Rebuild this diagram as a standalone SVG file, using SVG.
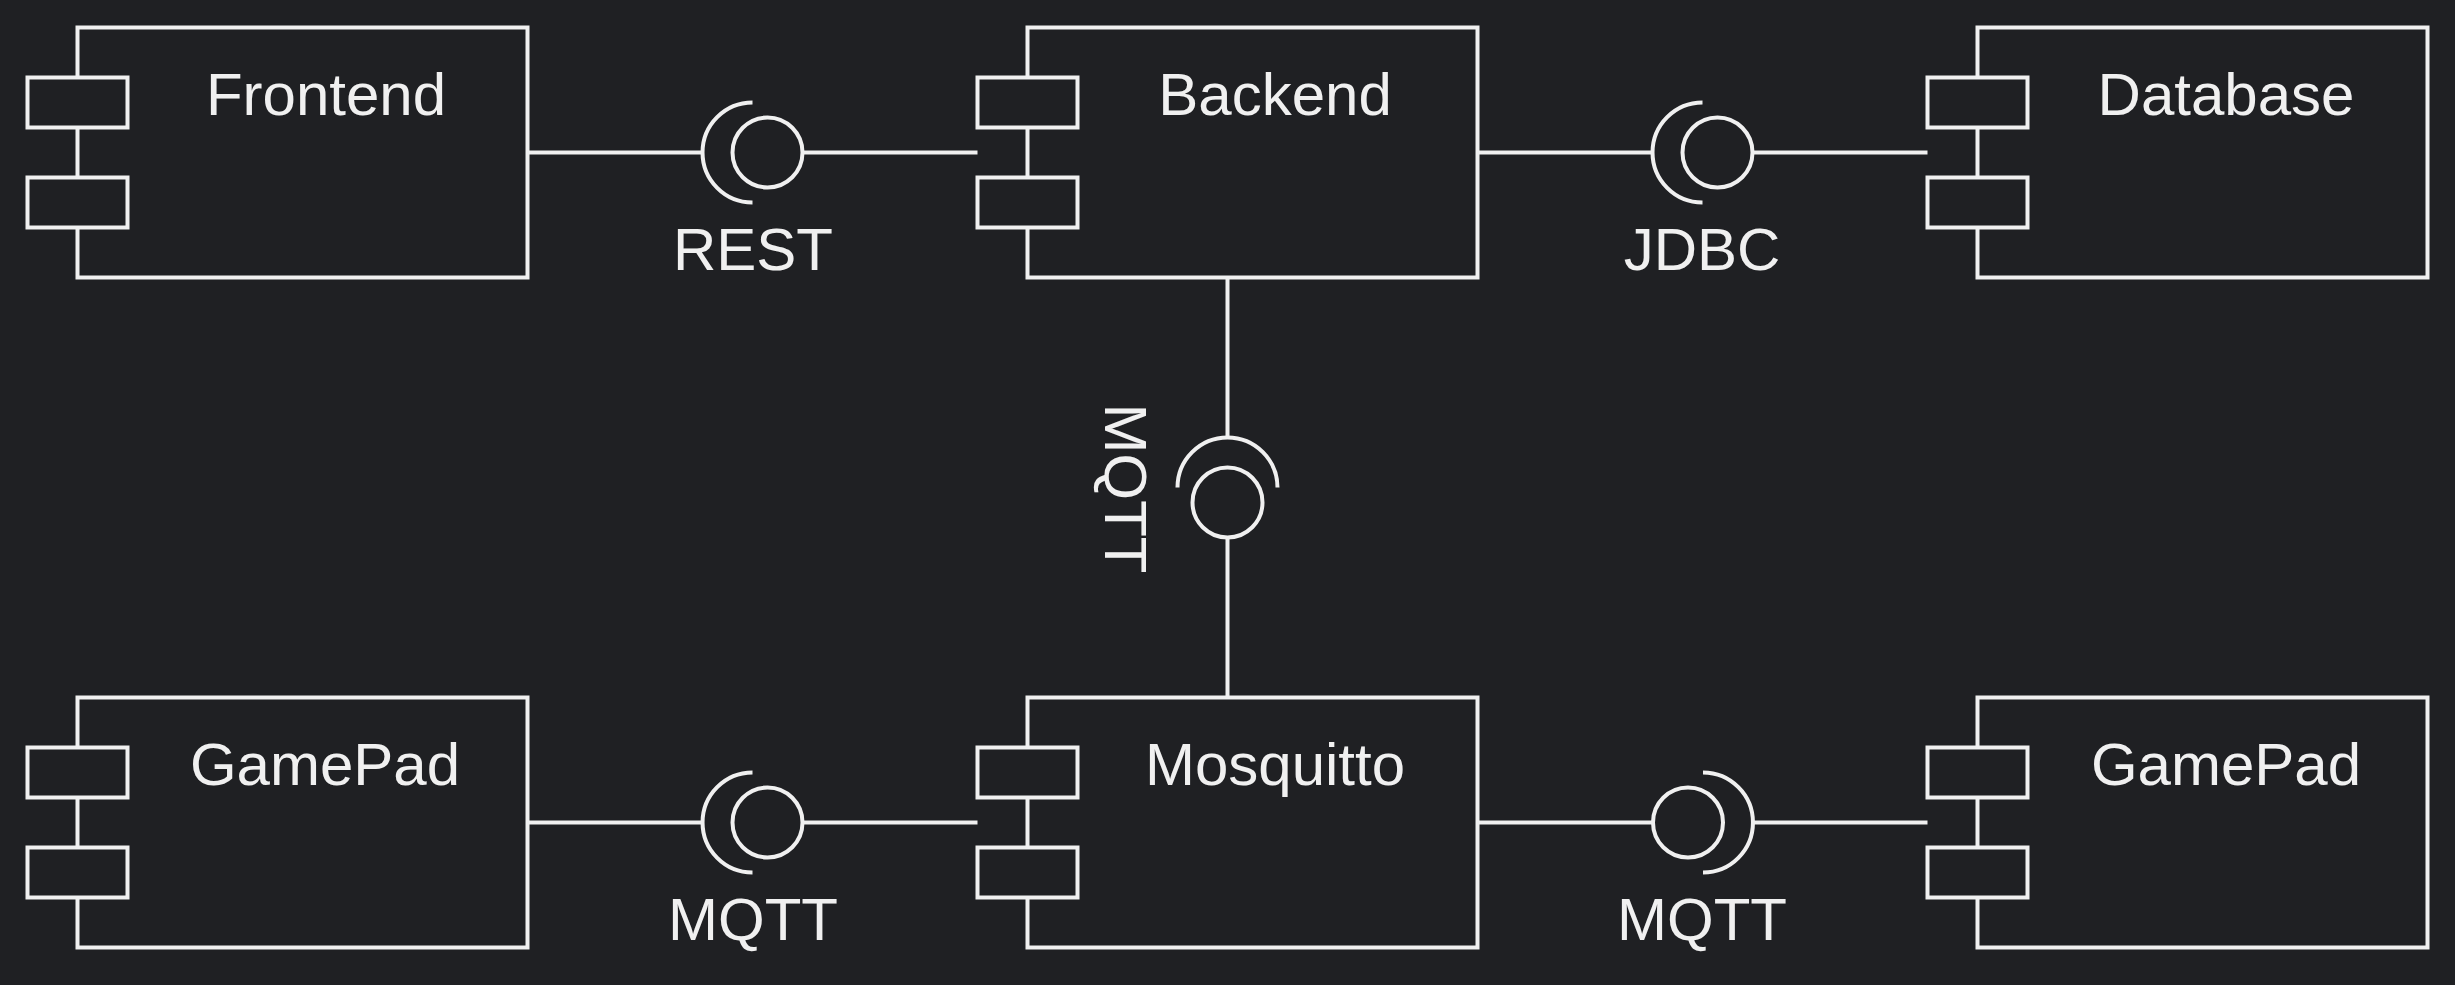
<svg xmlns="http://www.w3.org/2000/svg" width="2455" height="985" viewBox="0 0 2455 985">
  <style>
    .bg { fill: #1f2023; }
    .box { fill: #1f2023; stroke: #f0f0f0; stroke-width: 4; }
    .port { fill: #1f2023; stroke: #f0f0f0; stroke-width: 4; }
    .conn { fill: none; stroke: #f0f0f0; stroke-width: 4; }
    .lbl { font-family: "Liberation Sans", Arial, sans-serif; font-size: 60px; fill: #f0f0f0; text-anchor: middle; }
  </style>
  <rect class="bg" x="0" y="0" width="2455" height="985"/>

  <g id="connectors">
    <!-- Frontend - Backend (REST) -->
    <line class="conn" x1="527.5" y1="152.5" x2="702.5" y2="152.5"/>
    <path class="conn" d="M752.5,102.5 A50,50 0 0 0 752.5,202.5"/>
    <circle class="conn" cx="767.5" cy="152.5" r="35"/>
    <line class="conn" x1="802.5" y1="152.5" x2="977.5" y2="152.5"/>
    <text class="lbl" x="753" y="270">REST</text>

    <!-- Backend - Database (JDBC) -->
    <line class="conn" x1="1477.5" y1="152.5" x2="1652.5" y2="152.5"/>
    <path class="conn" d="M1702.5,102.5 A50,50 0 0 0 1702.5,202.5"/>
    <circle class="conn" cx="1717.5" cy="152.5" r="35"/>
    <line class="conn" x1="1752.5" y1="152.5" x2="1927.5" y2="152.5"/>
    <text class="lbl" x="1702" y="270">JDBC</text>

    <!-- Backend - Mosquitto (MQTT, vertical) -->
    <line class="conn" x1="1227.5" y1="277.5" x2="1227.5" y2="437.5"/>
    <path class="conn" d="M1177.5,487.5 A50,50 0 0 1 1277.5,487.5"/>
    <circle class="conn" cx="1227.5" cy="502.5" r="35"/>
    <line class="conn" x1="1227.5" y1="537.5" x2="1227.5" y2="697.5"/>
    <text class="lbl" transform="translate(1105,488.5) rotate(90)" x="0" y="0">MQTT</text>

    <!-- GamePad (left) - Mosquitto (MQTT) -->
    <line class="conn" x1="527.5" y1="822.5" x2="702.5" y2="822.5"/>
    <path class="conn" d="M752.5,772.5 A50,50 0 0 0 752.5,872.5"/>
    <circle class="conn" cx="767.5" cy="822.5" r="35"/>
    <line class="conn" x1="802.5" y1="822.5" x2="977.5" y2="822.5"/>
    <text class="lbl" x="753" y="940">MQTT</text>

    <!-- Mosquitto - GamePad (right) (MQTT) -->
    <line class="conn" x1="1477.5" y1="822.5" x2="1653" y2="822.5"/>
    <circle class="conn" cx="1688" cy="822.5" r="35"/>
    <path class="conn" d="M1703,772.5 A50,50 0 0 1 1703,872.5"/>
    <line class="conn" x1="1753" y1="822.5" x2="1927.5" y2="822.5"/>
    <text class="lbl" x="1702" y="940">MQTT</text>
  </g>

  <g id="frontend">
    <rect class="box" x="77.5" y="27.5" width="450" height="250"/>
    <rect class="port" x="27.5" y="77.5" width="100" height="50"/>
    <rect class="port" x="27.5" y="177.5" width="100" height="50"/>
    <text class="lbl" x="326" y="115">Frontend</text>
  </g>

  <g id="backend">
    <rect class="box" x="1027.5" y="27.5" width="450" height="250"/>
    <rect class="port" x="977.5" y="77.5" width="100" height="50"/>
    <rect class="port" x="977.5" y="177.5" width="100" height="50"/>
    <text class="lbl" x="1275" y="115">Backend</text>
  </g>

  <g id="database">
    <rect class="box" x="1977.5" y="27.5" width="450" height="250"/>
    <rect class="port" x="1927.5" y="77.5" width="100" height="50"/>
    <rect class="port" x="1927.5" y="177.5" width="100" height="50"/>
    <text class="lbl" x="2226" y="115">Database</text>
  </g>

  <g id="gamepad-left">
    <rect class="box" x="77.5" y="697.5" width="450" height="250"/>
    <rect class="port" x="27.5" y="747.5" width="100" height="50"/>
    <rect class="port" x="27.5" y="847.5" width="100" height="50"/>
    <text class="lbl" x="325" y="785">GamePad</text>
  </g>

  <g id="mosquitto">
    <rect class="box" x="1027.5" y="697.5" width="450" height="250"/>
    <rect class="port" x="977.5" y="747.5" width="100" height="50"/>
    <rect class="port" x="977.5" y="847.5" width="100" height="50"/>
    <text class="lbl" x="1275" y="785">Mosquitto</text>
  </g>

  <g id="gamepad-right">
    <rect class="box" x="1977.5" y="697.5" width="450" height="250"/>
    <rect class="port" x="1927.5" y="747.5" width="100" height="50"/>
    <rect class="port" x="1927.5" y="847.5" width="100" height="50"/>
    <text class="lbl" x="2226" y="785">GamePad</text>
  </g>
</svg>
